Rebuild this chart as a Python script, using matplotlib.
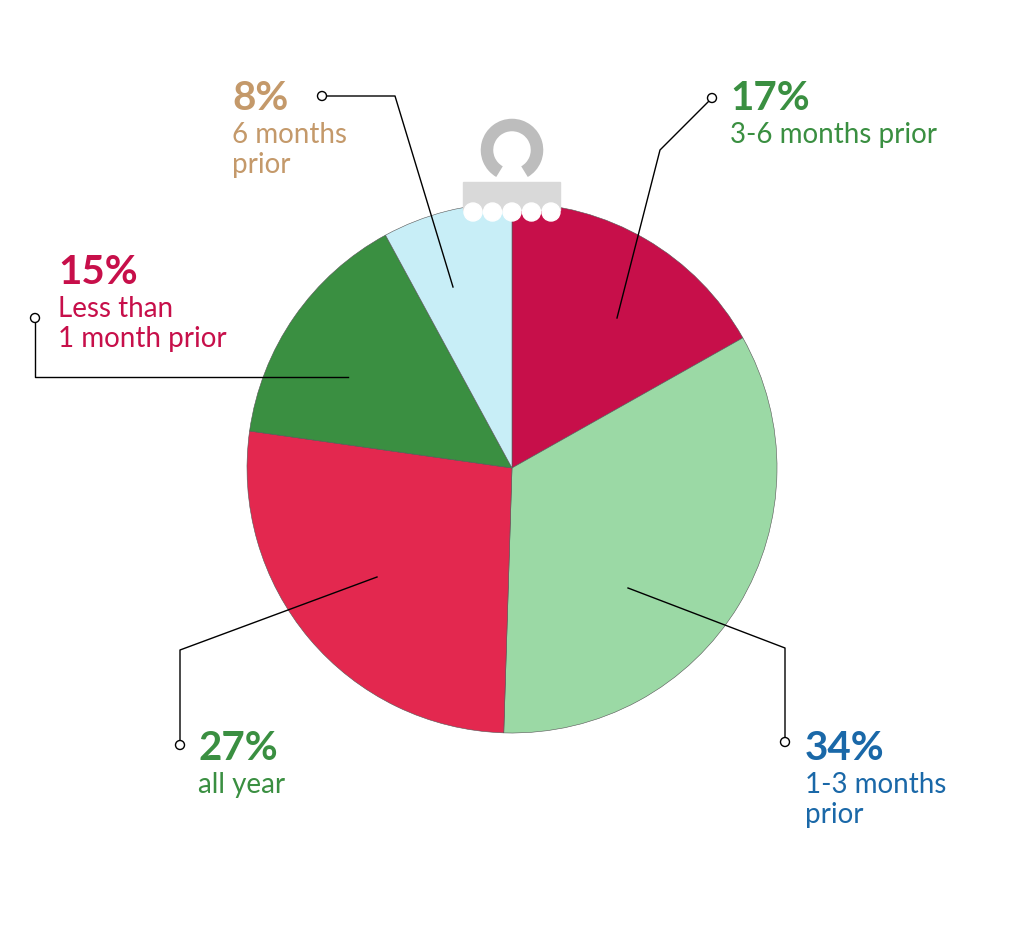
import matplotlib.pyplot as plt
from matplotlib.patches import Rectangle, Circle, Arc

# data, clockwise from 12 o'clock
shares = [17, 34, 27, 15, 8]
colors = ["#C70F4A", "#9BD9A5", "#E3284F", "#3A8F41", "#C8EEF7"]
pct_labels = ["17%", "34%", "27%", "15%", "8%"]
names = ["3-6 months prior", "1-3 months\nprior", "all year", "Less than\n1 month prior", "6 months\nprior"]
text_colors = ["#3A8F41", "#1A68A8", "#3A8F41", "#C70F4A", "#C4996A"]

H = 931
def Y(p):
    return H - p

fig = plt.figure(figsize=(10.24, 9.31), dpi=100)
ax = fig.add_axes([0, 0, 1, 1])
ax.set_xlim(0, 1024)
ax.set_ylim(0, H)
ax.set_aspect("equal")
ax.axis("off")

cx, cy, r = 512, Y(468), 265
ax.pie(shares, colors=colors, startangle=90, counterclock=False, center=(cx, cy),
       radius=r, wedgeprops=dict(linewidth=0.4, edgecolor="#555555"), frame=True)
ax.set_xlim(0, 1024)
ax.set_ylim(0, H)
ax.axis("off")

# ornament cap
ax.add_patch(Arc((512, Y(150)), 50, 50, theta1=-60, theta2=240, color="#BDBDBD", lw=9, zorder=3))
ax.add_patch(Rectangle((463, Y(210)), 97, 28, color="#D9D9D9", zorder=4))
for i in range(5):
    ax.add_patch(Circle((473 + i * 19.5, Y(212)), 9, color="white", zorder=5))

# leader lines: inner point, elbow(s), end (pixel coords)
leaders = [
    [(617, 318), (660, 150), (712, 98)],
    [(628, 588), (785, 648), (785, 742)],
    [(377, 577), (180, 650), (180, 745)],
    [(348, 377), (35, 377), (35, 318)],
    [(453, 287), (395, 96), (322, 96)],
]
for pts in leaders:
    ax.plot([p[0] for p in pts], [Y(p[1]) for p in pts], color="black", lw=1, zorder=6)
    ex, ey = pts[-1]
    ax.add_patch(Circle((ex, Y(ey)), 4.5, facecolor="white", edgecolor="black", lw=1, zorder=7))

text_pos = [(730, 98), (805, 748), (198, 748), (58, 272), (232, 98)]
for (tx, ty), pl, nm, c in zip(text_pos, pct_labels, names, text_colors):
    ax.text(tx, Y(ty), pl, color=c, fontsize=29, fontweight="bold", family="Lato", va="center")
    ax.text(tx, Y(ty + 24), nm, color=c, fontsize=20, family="Lato", va="top", linespacing=1.2)

fig.savefig("out.png", dpi=100)
